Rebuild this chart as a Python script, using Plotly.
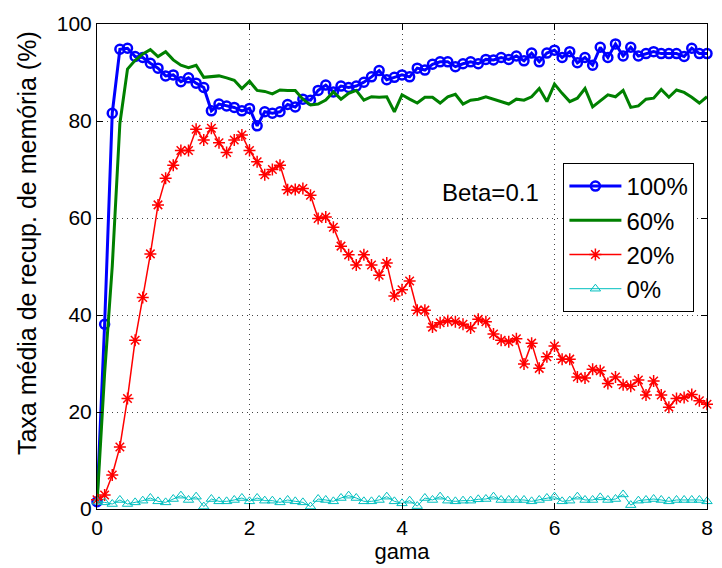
import plotly.graph_objects as go

gama = [round(i * 0.1, 1) for i in range(81)]

taxa_100 = [1.5, 38.1, 81.6, 94.8, 95.0, 93.3, 93.1, 91.9, 90.9, 89.3,
            89.5, 88.1, 88.9, 87.8, 86.9, 82.1, 83.5, 83.1, 82.8, 82.1,
            82.6, 79.0, 81.9, 81.6, 81.9, 83.4, 82.9, 84.5, 84.3, 86.3,
            87.4, 86.0, 87.2, 86.9, 87.2, 88.0, 89.1, 90.4, 88.5, 89.0,
            89.5, 89.1, 90.9, 90.5, 91.7, 92.2, 92.2, 91.2, 91.8, 92.2,
            91.8, 92.7, 92.6, 93.1, 92.7, 93.4, 92.4, 94.0, 92.2, 94.0,
            94.6, 93.1, 94.3, 92.0, 93.1, 91.5, 95.2, 93.1, 95.9, 93.4,
            95.2, 93.4, 93.9, 94.3, 93.9, 93.9, 93.9, 93.3, 95.0, 93.9,
            93.9]

taxa_60 = [1.0, 28.0, 50.0, 79.5, 90.7, 92.5, 93.8, 94.7, 93.3, 94.3,
           92.6, 91.5, 91.0, 91.5, 89.0, 89.2, 89.3, 88.9, 88.4, 86.7,
           88.2, 86.3, 86.1, 85.6, 86.4, 86.3, 86.3, 84.5, 83.3, 83.5,
           84.3, 86.0, 84.5, 85.7, 86.3, 84.3, 85.0, 84.9, 85.0, 81.9,
           85.4, 84.5, 83.7, 84.9, 84.9, 83.7, 85.0, 85.5, 83.5, 84.3,
           84.5, 85.0, 84.5, 84.0, 83.5, 84.5, 84.3, 85.0, 86.7, 84.0,
           87.6, 85.7, 84.0, 84.7, 86.7, 82.9, 84.2, 85.4, 85.0, 86.3,
           82.8, 83.1, 84.5, 84.7, 86.5, 84.9, 86.4, 85.9, 84.9, 83.7,
           85.0]

taxa_20 = [1.9, 2.9, 7.0, 12.8, 22.8, 34.8, 43.6, 52.6, 62.7, 68.2,
           70.9, 73.9, 73.9, 78.3, 76.1, 78.5, 75.5, 73.5, 76.1, 77.1,
           73.9, 71.6, 68.9, 70.0, 70.9, 65.8, 65.9, 66.1, 64.7, 59.9,
           60.2, 58.1, 54.2, 52.4, 50.3, 52.4, 50.3, 48.2, 50.7, 43.9,
           45.2, 47.0, 41.0, 41.0, 37.5, 38.4, 38.8, 38.6, 38.1, 37.3,
           39.1, 38.6, 36.1, 34.8, 34.5, 35.1, 29.9, 34.2, 29.0, 31.4,
           33.6, 30.9, 30.9, 27.2, 27.0, 28.8, 28.5, 25.9, 27.2, 25.6,
           25.3, 26.6, 23.5, 26.4, 23.5, 21.0, 22.8, 23.0, 23.6, 22.3,
           21.6]

taxa_0 = [1.5, 1.37, 1.03, 1.86, 1.03, 1.37, 1.72, 2.27, 1.58, 1.37,
          2.06, 2.75, 1.86, 2.54, 0.5, 2.06, 1.58, 1.58, 1.86, 2.27,
          1.58, 2.27, 1.72, 1.72, 1.37, 1.86, 1.58, 1.37, 0.5, 2.06,
          1.86, 1.58, 2.27, 2.75, 2.27, 1.58, 1.58, 1.86, 2.54, 1.58,
          1.17, 1.72, 0.6, 2.27, 1.86, 2.54, 1.72, 1.58, 1.72, 1.72,
          2.0, 2.06, 2.54, 1.86, 1.86, 1.86, 1.86, 1.58, 1.86, 2.27,
          2.54, 1.58, 1.72, 2.54, 1.86, 1.86, 2.4, 1.86, 2.06, 3.0,
          0.8, 1.72, 1.86, 2.06, 1.86, 1.58, 1.86, 1.86, 1.86, 1.86,
          1.58]

x_ticks = [0, 2, 4, 6, 8]
y_ticks = [0, 20, 40, 60, 80, 100]

FONT = "Liberation Sans, Arial, sans-serif"

fig = go.Figure()
fig.add_trace(go.Scatter(
    x=gama, y=taxa_100, name="100%", mode="lines+markers",
    line=dict(color="#0000ff", width=3),
    marker=dict(symbol="circle-open", size=9, color="#0000ff",
                line=dict(color="#0000ff", width=2.5)),
    cliponaxis=False))
fig.add_trace(go.Scatter(
    x=gama, y=taxa_60, name="60%", mode="lines",
    line=dict(color="#008000", width=3),
    cliponaxis=False))
fig.add_trace(go.Scatter(
    x=gama, y=taxa_20, name="20%", mode="lines+markers",
    line=dict(color="#ff0000", width=1.5),
    marker=dict(symbol="asterisk-open", size=10, color="#ff0000",
                line=dict(color="#ff0000", width=1.5)),
    cliponaxis=False))
fig.add_trace(go.Scatter(
    x=gama, y=taxa_0, name="0%", mode="lines+markers",
    line=dict(color="#00bfbf", width=1),
    marker=dict(symbol="triangle-up-open", size=9, color="#00bfbf",
                line=dict(color="#00bfbf", width=1)),
    cliponaxis=False))

axis_common = dict(
    showline=True, linecolor="black", linewidth=1, mirror="ticks",
    ticks="inside", ticklen=6, tickcolor="black", tickwidth=1,
    showgrid=True, gridcolor="#444444", gridwidth=1, griddash="1px,4px",
    zeroline=False, tickfont=dict(family=FONT, size=21, color="black"),
)

fig.update_xaxes(range=[0, 8], tickvals=x_ticks,
                 ticktext=[str(v) for v in x_ticks],
                 title=dict(text="gama", font=dict(family=FONT, size=22, color="black"), standoff=0),
                 **axis_common)
fig.update_yaxes(range=[0, 100], tickvals=y_ticks,
                 ticktext=[str(v) for v in y_ticks], **axis_common)

fig.add_annotation(text="Taxa média de recup. de memória (%)", textangle=-90,
                   xref="paper", yref="paper", x=-0.115, y=0.548,
                   xanchor="center", yanchor="middle", showarrow=False,
                   font=dict(family=FONT, size=25, color="black"))
fig.add_annotation(text="Beta=0.1", xref="x", yref="y", x=4.5, y=65.2,
                   xanchor="left", yanchor="middle", showarrow=False,
                   font=dict(family=FONT, size=24, color="black"))

fig.update_layout(
    width=722, height=568,
    margin=dict(l=97, r=9, t=24, b=59),
    paper_bgcolor="white", plot_bgcolor="white",
    showlegend=True,
    legend=dict(x=0.7646, y=0.7134, xanchor="left", yanchor="top",
                bgcolor="white", bordercolor="black", borderwidth=1,
                font=dict(family=FONT, size=24, color="black"),
                itemwidth=52, tracegroupgap=0),
    font=dict(family=FONT),
)

fig.write_html("out.html")
